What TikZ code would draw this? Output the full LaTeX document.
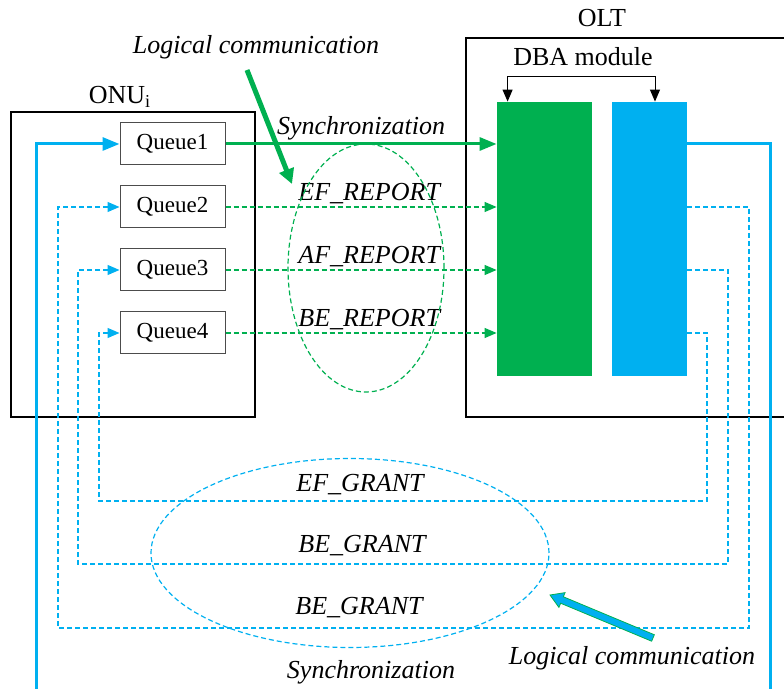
\documentclass[tikz,border=0pt]{standalone}
\usepackage{fontspec}
\setmainfont{Liberation Serif}
\usepackage{tikz}
\definecolor{ponGreen}{RGB}{0, 176, 80}
\definecolor{ponBlue}{RGB}{0, 176, 240}
\usetikzlibrary{arrows.meta, positioning, calc}

\begin{document}
\begin{tikzpicture}[
    x=0.5pt, y=-0.5pt,
    queuebox/.style={rectangle, draw=black!70, line width=0.5pt, minimum width=52.5pt,
                     minimum height=21pt, inner sep=0pt, font=\fontsize{11.5}{13}\selectfont},
    unitbox/.style={rectangle, draw=black, line width=0.8pt, inner sep=0pt},
    title/.style={font=\fontsize{13}{15}\selectfont},
    msg/.style={font=\fontsize{13}{15}\selectfont\itshape, text=black},
    syncline/.style={line width=1.5pt},
    report/.style={ponGreen, line width=0.6pt, dash pattern=on 2.5pt off 1.5pt},
    grant/.style={ponBlue, line width=0.6pt, dash pattern=on 2.5pt off 1.5pt},
    bigtip/.style={-{Triangle[length=8.5pt,width=6.5pt]}},
    smalltip/.style={-{Triangle[length=6pt,width=5pt]}}
]
    \clip (0,0) rectangle (784,689);

    % ONU and OLT
    \node[unitbox, minimum width=122pt, minimum height=152.5pt] (onu) at (133,264.5) {};
    \node[title] (onulbl) at (120,97) {ONU\textsubscript{i}};
    \node[unitbox, minimum width=167pt, minimum height=189.5pt] (olt) at (633,227.5) {};
    \node[title] (oltlbl) at (602,18) {OLT};

    % Queues
    \foreach \i/\y in {1/144, 2/207, 3/270, 4/333}
        \node[queuebox] (q\i) at (172.5,\y) {Queue\i};

    % DBA module
    \node[fill=ponGreen, minimum width=47.5pt, minimum height=137pt, inner sep=0pt] (dbag) at (544.5,239) {};
    \node[fill=ponBlue, minimum width=37.5pt, minimum height=137pt, inner sep=0pt] (dbab) at (649.5,239) {};
    \node[title] (dba) at (583,57) {DBA module};
    \draw[line width=0.5pt, {Triangle[length=6pt,width=5pt]}-{Triangle[length=6pt,width=5pt]}]
        ([xshift=5.5pt]dbag.north west) -- ++(0,-25) -| ([xshift=2.75pt]dbab.north);

    % Reports (upstream)
    \draw[ponGreen, syncline, bigtip] (q1.east) -- node[msg, midway, above, inner sep=1pt] {Synchronization} (dbag.west |- q1.east);
    \foreach \i/\t in {2/EF, 3/AF, 4/BE}
        \draw[report, smalltip] (q\i.east) -- node[msg, pos=0.53, above, inner sep=1.5pt] {\t\_REPORT} (dbag.west |- q\i.east);
    \draw[report] (366,268) ellipse [x radius=39pt, y radius=62pt];

    \node[msg] (logtop) at (256,47) {Logical communication};
    \coordinate (logtopend) at (292,184);
    \draw[ponGreen, line width=2.5pt, -{Triangle[length=7.5pt,width=7.5pt]}] (247,70) -- (logtopend);

    % Grants (downstream)
    \draw[ponBlue, syncline] (dbab.east |- q1.east) -| (770,700);
    \draw[ponBlue, syncline, bigtip] (36,700) |- (q1.west);
    \draw[grant, smalltip] (dbab.east |- q2.east) -| (749,628) -| (58,207) -- (q2.west);
    \draw[grant, smalltip] (dbab.east |- q3.east) -| (728,564) -| (78,270) -- (q3.west);
    \draw[grant, smalltip] (dbab.east |- q4.east) -| (707,501) -| (99,333) -- (q4.west);
    \draw[grant] (350,553) ellipse [x radius=99.5pt, y radius=47.25pt];

    \node[msg] (efgrant) at (360,485) {EF\_GRANT};
    \node[msg] (begrant) at (362,546) {BE\_GRANT};
    \node[msg] (begrant2) at (359,608) {BE\_GRANT};
    \node[msg] (syncbot) at (371,672) {Synchronization};

    \node[msg] (logbot) at (632,658) {Logical communication};
    \coordinate (gaTail) at (653,638);
    \coordinate (gaTip) at (550,595);
    \coordinate (gaBase) at ($(gaTip)!6.5pt!(gaTail)$);
    \draw[fill=ponBlue, draw=ponGreen, line width=0.4pt, line join=miter]
        ($(gaTail)!1.75pt!90:(gaTip)$) -- ($(gaBase)!1.75pt!90:(gaTip)$)
        -- ($(gaBase)!4pt!90:(gaTip)$) -- (gaTip) -- ($(gaBase)!4pt!-90:(gaTip)$)
        -- ($(gaBase)!1.75pt!-90:(gaTip)$) -- ($(gaTail)!1.75pt!-90:(gaTip)$) -- cycle;
\end{tikzpicture}
\end{document}
